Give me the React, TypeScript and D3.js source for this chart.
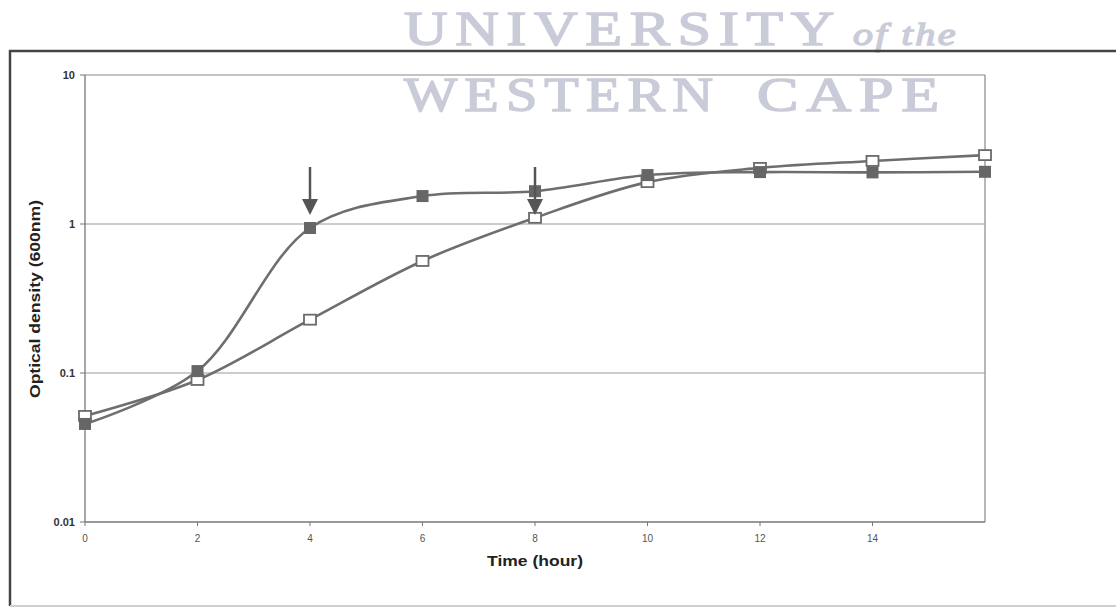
import React from "react";
import * as d3 from "d3";

const hours = [0, 2, 4, 6, 8, 10, 12, 14, 16];
const filledOD = [0.0455, 0.103, 0.94, 1.54, 1.66, 2.13, 2.23, 2.22, 2.24];
const openOD = [0.0515, 0.0898, 0.228, 0.565, 1.1, 1.91, 2.38, 2.65, 2.9];
const xTicks = [0, 2, 4, 6, 8, 10, 12, 14];
const yTicks = [0.01, 0.1, 1, 10];
const yTickLabels = ["0.01", "0.1", "1", "10"];
const arrowHours = [4, 8];

export default function App() {
  const W = 1116, H = 609;
  const left = 85, right = 985, top = 75, bottom = 522;
  const x = d3.scaleLinear().domain([0, 16]).range([left, right]);
  const y = d3.scaleLog().domain([0.01, 10]).range([bottom, top]);
  const line = d3
    .line<[number, number]>()
    .x((d) => x(d[0]))
    .y((d) => y(d[1]))
    .curve(d3.curveCatmullRom.alpha(0.5));
  const filledPts = hours.map((h, i) => [h, filledOD[i]] as [number, number]);
  const openPts = hours.map((h, i) => [h, openOD[i]] as [number, number]);
  const lineColor = "#6e6e6e";
  const font = "'Liberation Sans', Arial, sans-serif";
  const ms = 12;

  return (
    <svg
      width={W}
      height={H}
      style={{ position: "absolute", left: 0, top: 0, background: "#fff" }}
    >
      {/* watermark */}
      <g
        fill="#c9cbd8"
        stroke="#c9cbd8"
        strokeWidth={1.4}
        fontFamily="'Liberation Serif', 'DejaVu Serif', serif"
        letterSpacing={6}
      >
        <text x={404} y={45} fontSize={48} textLength={438} lengthAdjust="spacingAndGlyphs">
          UNIVERSITY
        </text>
        <text x={853} y={45} fontSize={32} fontStyle="italic" letterSpacing={2} textLength={105} lengthAdjust="spacingAndGlyphs">
          of the
        </text>
        <text x={404} y={111} fontSize={48} textLength={316} lengthAdjust="spacingAndGlyphs">
          WESTERN
        </text>
        <text x={757} y={111} fontSize={48} textLength={190} lengthAdjust="spacingAndGlyphs">
          CAPE
        </text>
      </g>
      {/* outer frame */}
      <line x1={9} x2={W} y1={51} y2={51} stroke="#444" strokeWidth={2.5} />
      <line x1={10} x2={10} y1={50} y2={606} stroke="#444" strokeWidth={2.5} />
      <line x1={10} x2={W} y1={606} y2={606} stroke="#cfcfcf" strokeWidth={2} />

      {/* plot area border & grid */}
      <line x1={left} x2={right} y1={top} y2={top} stroke="#888" strokeWidth={1.2} />
      <line x1={right} x2={right} y1={top} y2={bottom} stroke="#888" strokeWidth={1.2} />
      {yTicks.slice(1, 3).map((t) => (
        <line key={t} x1={left} x2={right} y1={y(t)} y2={y(t)} stroke="#999" strokeWidth={1} />
      ))}
      {/* axes */}
      <line x1={left} x2={left} y1={top} y2={bottom} stroke="#777" strokeWidth={1.3} />
      <line x1={left} x2={right} y1={bottom} y2={bottom} stroke="#777" strokeWidth={1.3} />
      {yTicks.map((t, i) => (
        <g key={t}>
          <line x1={left - 5} x2={left} y1={y(t)} y2={y(t)} stroke="#777" />
          <text
            x={left - 10}
            y={y(t) + 4}
            textAnchor="end"
            fontSize={11}
            fontWeight="bold"
            fontFamily={font}
            fill="#333"
          >
            {yTickLabels[i]}
          </text>
        </g>
      ))}
      {xTicks.map((t) => (
        <g key={t}>
          <line x1={x(t)} x2={x(t)} y1={bottom} y2={bottom + 4} stroke="#777" />
          <text
            x={x(t)}
            y={bottom + 20}
            textAnchor="middle"
            fontSize={10}
            fontFamily={font}
            fill="#555"
          >
            {t}
          </text>
        </g>
      ))}
      <text
        x={x(8)}
        y={566}
        textAnchor="middle"
        fontSize={15}
        fontWeight="bold"
        fontFamily={font}
        fill="#222"
        textLength={96}
        lengthAdjust="spacingAndGlyphs"
      >
        Time (hour)
      </text>
      <text
        transform={`translate(40, 299) rotate(-90)`}
        textAnchor="middle"
        fontSize={14}
        fontWeight="bold"
        fontFamily={font}
        fill="#222"
        textLength={198}
        lengthAdjust="spacingAndGlyphs"
      >
        Optical density (600nm)
      </text>

      {/* lines */}
      <path d={line(openPts) || ""} fill="none" stroke={lineColor} strokeWidth={2.6} />
      <path d={line(filledPts) || ""} fill="none" stroke={lineColor} strokeWidth={2.6} />

      {/* markers */}
      {openPts.map((p, i) => (
        <rect
          key={"o" + i}
          x={x(p[0]) - ms / 2}
          y={y(p[1]) - ms / 2 + 1}
          width={ms}
          height={ms - 2}
          fill="#fff"
          stroke="#6a6a6a"
          strokeWidth={1.8}
        />
      ))}
      {filledPts.map((p, i) => (
        <rect
          key={"f" + i}
          x={x(p[0]) - ms / 2}
          y={y(p[1]) - ms / 2}
          width={ms}
          height={ms}
          fill="#666"
        />
      ))}

      {/* arrows */}
      {arrowHours.map((h) => (
        <g key={h}>
          <line x1={x(h)} x2={x(h)} y1={167} y2={200} stroke="#555" strokeWidth={2.5} />
          <path
            d={`M${x(h) - 8},199 L${x(h) + 8},199 L${x(h)},215 Z`}
            fill="#555"
          />
        </g>
      ))}
    </svg>
  );
}
